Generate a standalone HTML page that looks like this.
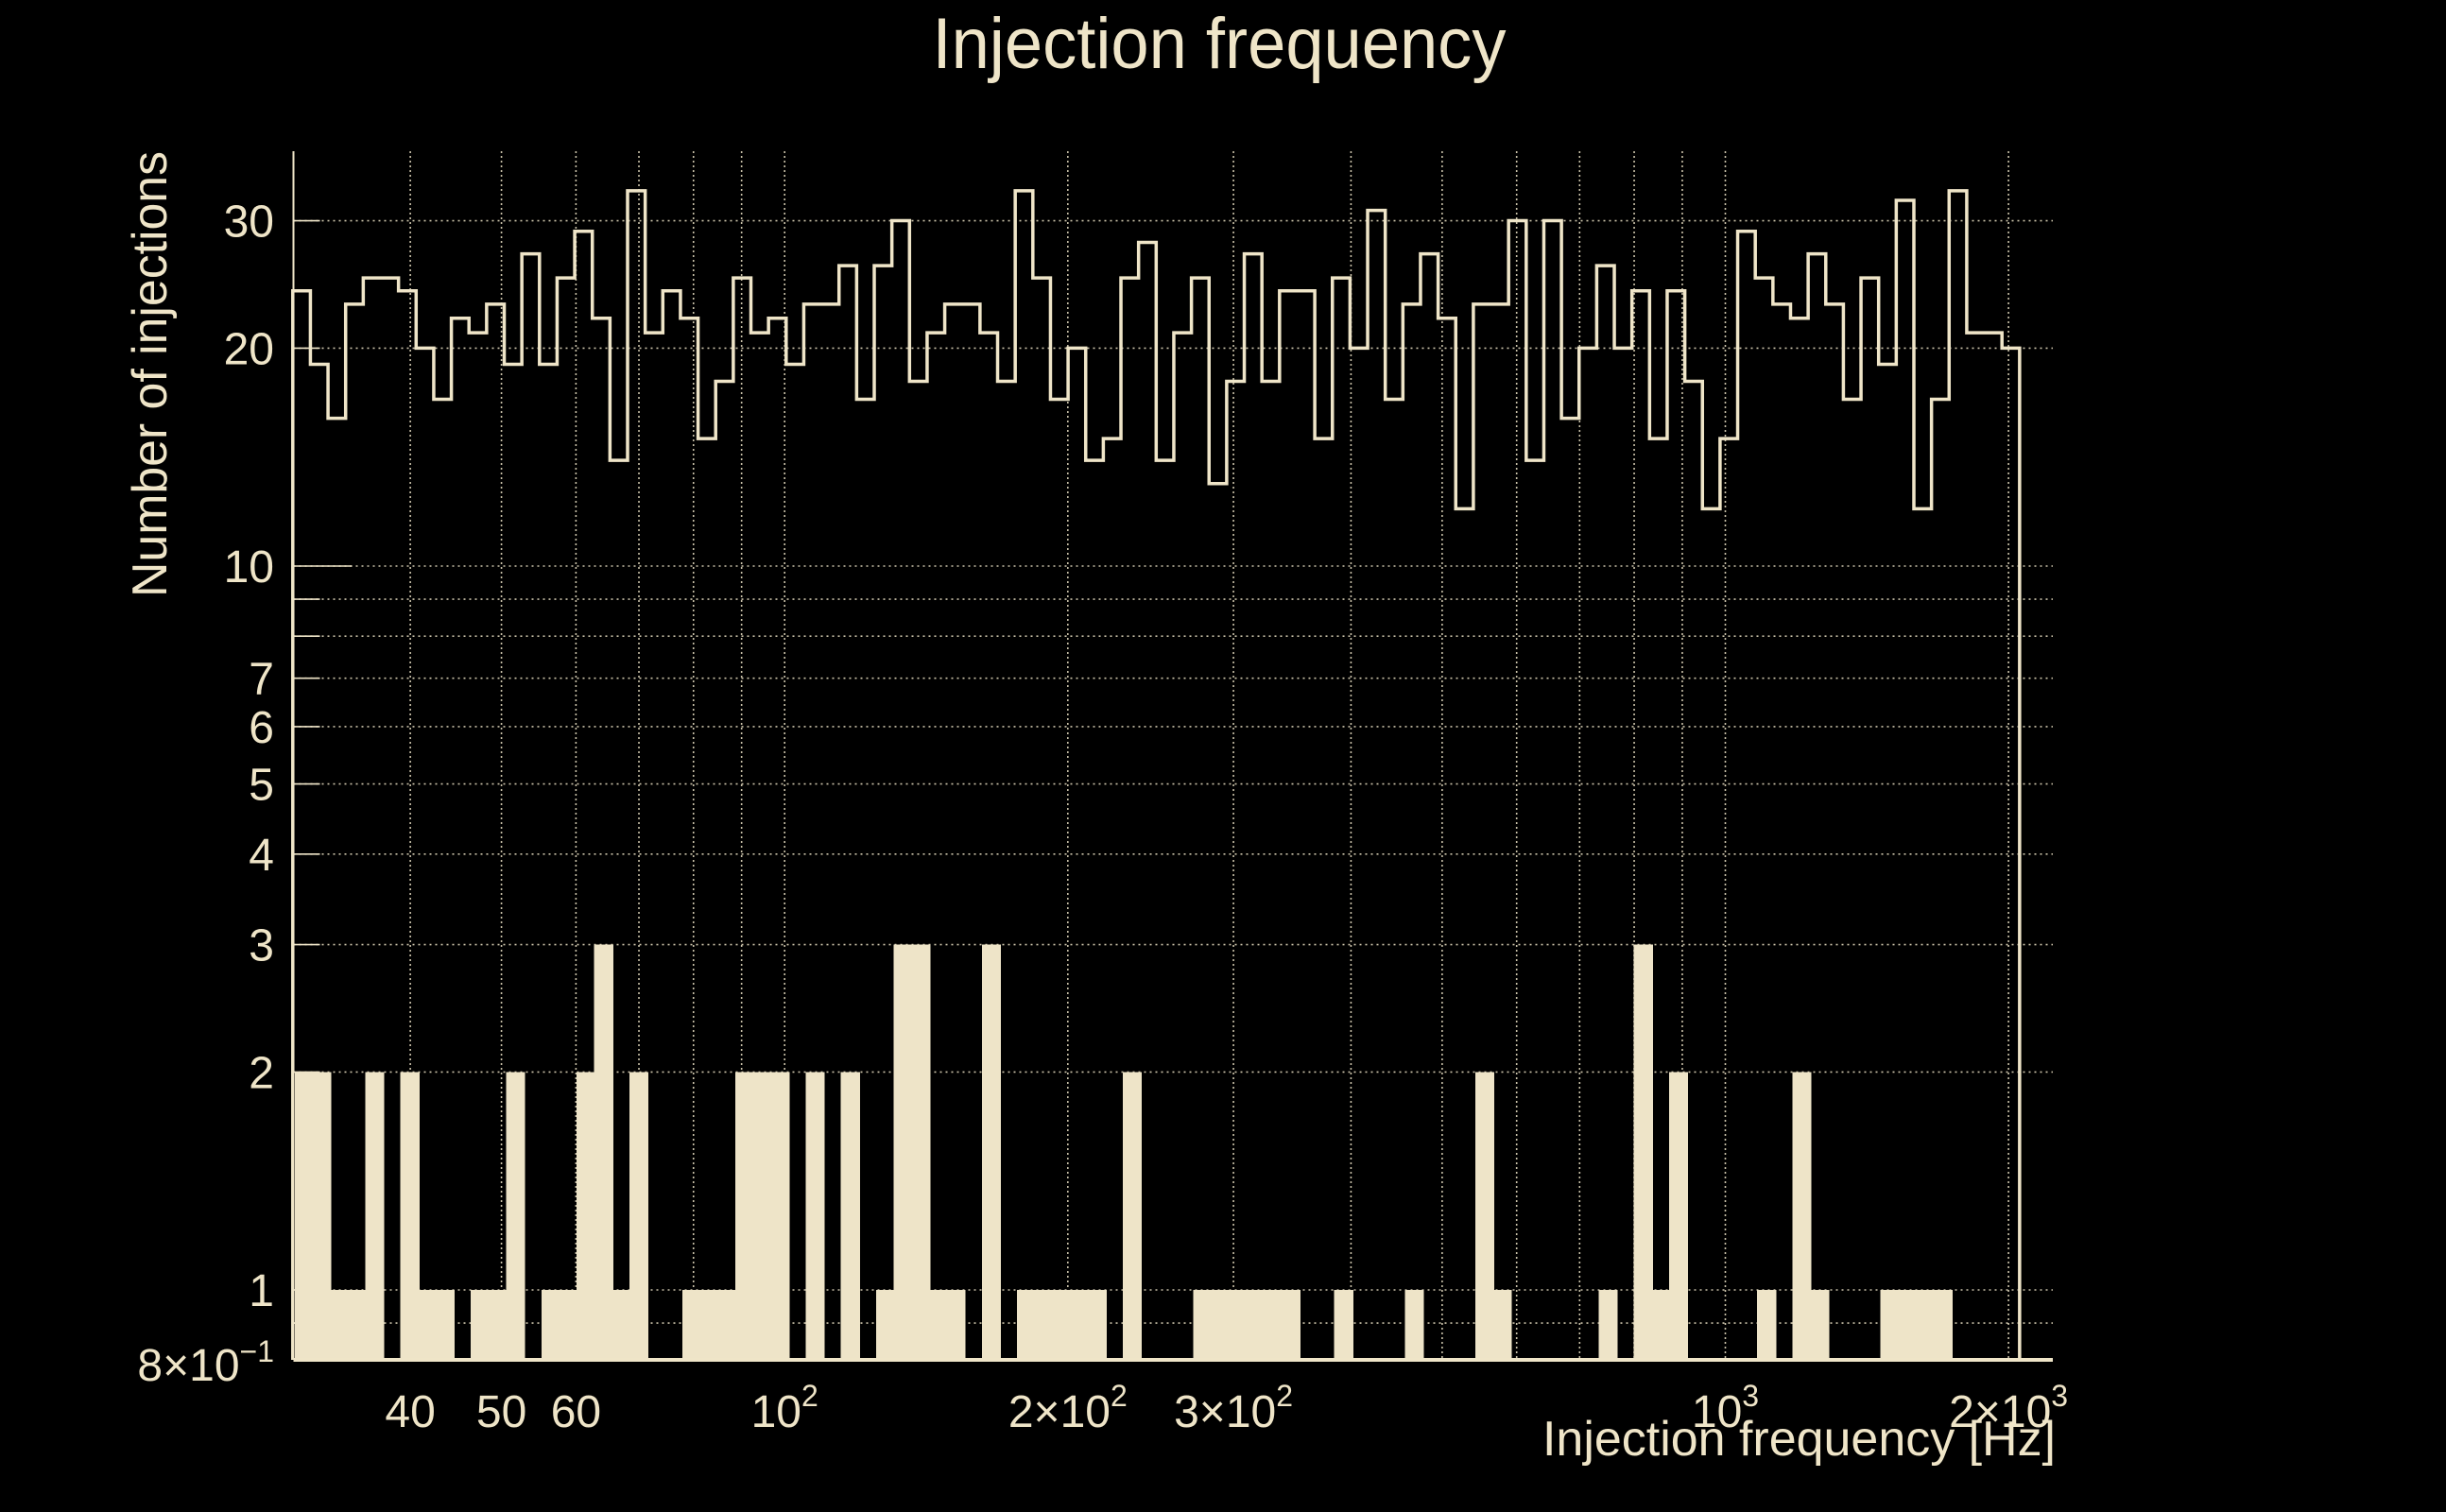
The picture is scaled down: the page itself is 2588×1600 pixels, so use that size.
<!DOCTYPE html>
<html><head><meta charset="utf-8"><style>
html,body{margin:0;padding:0;background:#000;}
svg{display:block;font-family:"Liberation Sans",sans-serif;}
</style></head><body>
<svg id="chart" width="2588" height="1600" viewBox="0 0 2588 1600" xmlns="http://www.w3.org/2000/svg">
<rect width="2588" height="1600" fill="#000"/>
<g id="grid"></g>
<g id="bars" shape-rendering="crispEdges"></g>
<g id="step"></g>
<g id="axes"></g>
<text x="1290" y="72" font-size="76" fill="#efe5c8" text-anchor="middle" textLength="607" lengthAdjust="spacingAndGlyphs">Injection frequency</text>
<text transform="translate(176,396) rotate(-90)" font-size="52" fill="#efe5c8" text-anchor="middle" textLength="472" lengthAdjust="spacingAndGlyphs">Number of injections</text>
<text x="2175" y="1540" font-size="52" fill="#efe5c8" text-anchor="end" textLength="543" lengthAdjust="spacingAndGlyphs">Injection frequency [Hz]</text>
</svg>
<script>
const totalCounts = [24,19,16,23,25,25,24,20,17,22,21,23,19,27,19,25,29,22,14,33,21,24,22,15,18,25,21,22,19,23,23,26,17,26,30,18,21,23,23,21,18,33,25,17,20,14,15,25,28,14,21,25,13,18,27,18,24,24,15,25,20,31,17,23,27,22,12,23,23,30,14,30,16,20,26,20,24,15,24,18,12,15,29,25,23,22,27,23,17,25,19,32,12,17,33,21,21,20];
const foundCounts = [2,2,1,1,2,0,2,1,1,0,1,1,2,0,1,1,2,3,1,2,0,0,1,1,1,2,2,2,0,2,0,2,0,1,3,3,1,1,0,3,0,1,1,1,1,1,0,2,0,0,0,1,1,1,1,1,1,0,0,1,0,0,0,1,0,0,0,2,1,0,0,0,0,0,1,0,3,1,2,0,0,0,0,1,0,2,1,0,0,0,1,1,1,1,0,0,0,0];
const freqRange = [30, 2055];
const yTickValues = [30,20,10,7,6,5,4,3,2,1];
const yGridValues = [0.9,1,2,3,4,5,6,7,8,9,10,20,30];
const xTickValues = [40,50,60,100,200,300,1000,2000];
const xTickLabels = [["40",""],["50",""],["60",""],["10","2"],["2×10","2"],["3×10","2"],["10","3"],["2×10","3"]];
const xGridValues = [40,50,60,70,80,90,100,200,300,400,500,600,700,800,900,1000,2000];

const NS="http://www.w3.org/2000/svg", C="#efe5c8";
const L=310.5, R=2172, T=160, B=1439;
function xs(f){return 830.2+(Math.log10(f)-2)*995.3;}
function ys(v){return 1365-Math.log10(v)*766;}
function mk(tag,attrs,parent){const e=document.createElementNS(NS,tag);for(const k in attrs)e.setAttribute(k,attrs[k]);parent.appendChild(e);return e;}
const grid=document.getElementById('grid'),bars=document.getElementById('bars'),step=document.getElementById('step'),axes=document.getElementById('axes');

yGridValues.forEach(v=>{const l=mk('line',{x1:L,x2:R,y1:ys(v),y2:ys(v),stroke:C,'stroke-width':1.6,'stroke-dasharray':'2 4',opacity:0.85},grid);


const t=mk('line',{x1:L,x2:L+(v===10?62:28),y1:ys(v),y2:ys(v),stroke:C,'stroke-width':1.6},grid);

});
xGridValues.forEach(f=>{const l=mk('line',{x1:xs(f),x2:xs(f),y1:T,y2:B,stroke:C,'stroke-width':1.6,'stroke-dasharray':'2 3',opacity:0.85},grid);

});

const n=totalCounts.length, lf0=Math.log10(freqRange[0]), lf1=Math.log10(freqRange[1]);
function edge(i){return Math.pow(10,lf0+(lf1-lf0)*i/n);}
foundCounts.forEach((v,i)=>{if(v<=0)return;
const x0=xs(edge(i)),x1=xs(edge(i+1));
const r=mk('rect',{x:x0+2,y:ys(v),width:x1-x0+1.5,height:B-ys(v),fill:'#eee4c8'},bars);

});

let d='M'+xs(edge(0))+' '+B;
totalCounts.forEach((v,i)=>{d+=' L'+xs(edge(i))+' '+ys(v)+' L'+xs(edge(i+1))+' '+ys(v);});
d+=' L'+xs(edge(n))+' '+B;
const p=mk('path',{d:d,fill:'none',stroke:C,'stroke-width':3.5},step);



const ya=mk('line',{x1:L,x2:L,y1:T,y2:B,stroke:C,'stroke-width':2},axes);


const xa=mk('line',{x1:L,x2:R,y1:B,y2:B,stroke:C,'stroke-width':4},axes);



yTickValues.forEach(v=>{const t=mk('text',{x:290,y:ys(v)+17,'font-size':48,fill:C,'text-anchor':'end'},axes);t.textContent=String(v);

});
const yb=mk('text',{x:290,y:B+22,'font-size':48,fill:C,'text-anchor':'end'},axes);
yb.innerHTML='8×10<tspan font-size="32" dy="-20">−1</tspan>';



xTickValues.forEach((f,i)=>{const t=mk('text',{x:xs(f),y:1510,'font-size':48,fill:C,'text-anchor':'middle'},axes);
t.innerHTML=xTickLabels[i][0]+(xTickLabels[i][1]?'<tspan font-size="32" dy="-22">'+xTickLabels[i][1]+'</tspan>':'');

});
</script>
</body></html>
